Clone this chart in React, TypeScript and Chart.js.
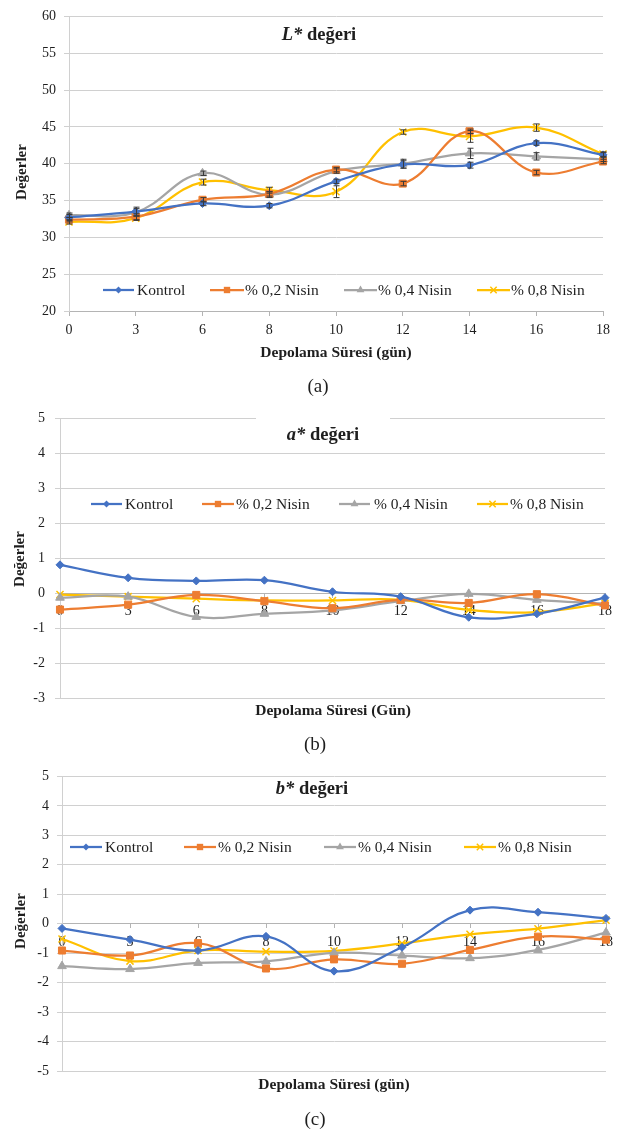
import React, { useEffect, useRef } from 'react';
import { Chart, registerables } from 'chart.js';

Chart.register(...registerables);

// ---------- data ----------
const days = ['0', '3', '6', '8', '10', '12', '14', '16', '18'];
const seriesNames = ['Kontrol', '% 0,2 Nisin', '% 0,4 Nisin', '% 0,8 Nisin'];

// L* values
const lKontrol = [32.7, 33.5, 34.6, 34.3, 37.6, 39.9, 39.8, 42.8, 41.2];
const lNisin02 = [32.4, 32.8, 35.1, 35.9, 39.2, 37.3, 44.4, 38.8, 40.3];
const lNisin04 = [33.0, 33.4, 38.7, 35.8, 39.0, 40.0, 41.4, 41.0, 40.6];
const lNisin08 = [32.1, 32.6, 37.5, 36.4, 36.2, 44.3, 43.7, 44.9, 41.3];
// L* error bars
const lErrKontrol = [0.4, 0.6, 0.3, 0.3, 0.3, 0.5, 0.4, 0.3, 0.3];
const lErrNisin02 = [0.3, 0.4, 0.3, 0.3, 0.3, 0.3, 0.3, 0.3, 0.3];
const lErrNisin04 = [0.3, 0.5, 0.3, 0.4, 0.3, 0.6, 0.7, 0.5, 0.3];
const lErrNisin08 = [0.3, 0.3, 0.4, 0.4, 0.8, 0.3, 0.8, 0.5, 0.3];

// a* values
const aKontrol = [0.81, 0.44, 0.35, 0.37, 0.04, -0.1, -0.69, -0.59, -0.13];
const aNisin02 = [-0.47, -0.33, -0.05, -0.23, -0.43, -0.19, -0.28, -0.03, -0.35];
const aNisin04 = [-0.13, -0.1, -0.68, -0.59, -0.49, -0.23, -0.02, -0.19, -0.3];
const aNisin08 = [-0.04, -0.1, -0.16, -0.21, -0.21, -0.19, -0.48, -0.54, -0.29];

// b* values
const bKontrol = [-0.16, -0.54, -0.91, -0.43, -1.61, -0.8, 0.46, 0.39, 0.18];
const bNisin02 = [-0.91, -1.08, -0.66, -1.52, -1.21, -1.36, -0.89, -0.44, -0.54];
const bNisin04 = [-1.44, -1.54, -1.33, -1.28, -0.99, -1.08, -1.17, -0.89, -0.3];
const bNisin08 = [-0.52, -1.27, -0.91, -0.95, -0.92, -0.67, -0.36, -0.17, 0.12];

// axis ranges [min, max, step]
const lRange = [20, 60, 5];
const aRange = [-3, 5, 1];
const bRange = [-5, 5, 1];

// ---------- styles ----------
const FAMILY = '"Liberation Serif", "Times New Roman", serif';
const TEXT = '#1e1e1e';
const GRID = '#d0d0d0';
const AXIS = '#b4b4b4';
const colors = ['#4472C4', '#ED7D31', '#A5A5A5', '#FFC000'];
const pointStyles = ['rectRot', 'rect', 'triangle', 'crossRot'];
const pointRadii = [4, 5, 5, 5];
const W = 628;

type Cfg = {
  top: number;
  height: number;
  area: { left: number; right: number; top: number; bottom: number };
  range: number[];
  xAtZero: boolean;
  xTickLen: number;
  xTickPad: number;
  yTickPad: number;
  series: number[][];
  errors?: number[][];
  titleItalic: string;
  titleRest: string;
  titleX: number;
  titleY: number;
  titleBox?: { x0: number; x1: number; y0: number; y1: number };
  legendY: number;
  legend: number[][]; // [lineStart, lineEnd, textX]
  xTitle: string;
  xTitleX: number;
  xTitleY: number;
  yTitleX: number;
  yTitleY: number;
  caption: string;
  captionX: number;
  captionY: number;
};

const cfgA: Cfg = {
  top: 0,
  height: 400,
  area: { left: 69, right: 603, top: 14, bottom: 311 },
  range: lRange,
  xAtZero: false,
  xTickLen: 5,
  xTickPad: 6,
  yTickPad: 8,
  series: [lKontrol, lNisin02, lNisin04, lNisin08],
  errors: [lErrKontrol, lErrNisin02, lErrNisin04, lErrNisin08],
  titleItalic: 'L*',
  titleRest: ' değeri',
  titleX: 319,
  titleY: 35,
  legendY: 290,
  legend: [
    [103, 134, 137],
    [210, 244, 245],
    [344, 377, 378],
    [477, 510, 511],
  ],
  xTitle: 'Depolama Süresi (gün)',
  xTitleX: 336,
  xTitleY: 353,
  yTitleX: 22,
  yTitleY: 172,
  caption: '(a)',
  captionX: 318,
  captionY: 387,
};

const cfgB: Cfg = {
  top: 400,
  height: 360,
  area: { left: 60, right: 605, top: 17, bottom: 298 },
  range: aRange,
  xAtZero: true,
  xTickLen: 4,
  xTickPad: 6,
  yTickPad: 10,
  series: [aKontrol, aNisin02, aNisin04, aNisin08],
  titleItalic: 'a*',
  titleRest: ' değeri',
  titleX: 323,
  titleY: 35,
  titleBox: { x0: 256, x1: 390, y0: 12, y1: 47 },
  legendY: 104,
  legend: [
    [91, 122, 125],
    [202, 234, 236],
    [339, 370, 374],
    [477, 508, 510],
  ],
  xTitle: 'Depolama Süresi (Gün)',
  xTitleX: 333,
  xTitleY: 311,
  yTitleX: 20,
  yTitleY: 159,
  caption: '(b)',
  captionX: 315,
  captionY: 345,
};

const cfgC: Cfg = {
  top: 760,
  height: 375,
  area: { left: 62, right: 606, top: 11, bottom: 311 },
  range: bRange,
  xAtZero: true,
  xTickLen: 4,
  xTickPad: 6,
  yTickPad: 8,
  series: [bKontrol, bNisin02, bNisin04, bNisin08],
  titleItalic: 'b*',
  titleRest: ' değeri',
  titleX: 312,
  titleY: 29,
  legendY: 87,
  legend: [
    [70, 102, 105],
    [184, 216, 218],
    [324, 356, 358],
    [464, 496, 498],
  ],
  xTitle: 'Depolama Süresi (gün)',
  xTitleX: 334,
  xTitleY: 325,
  yTitleX: 21,
  yTitleY: 161,
  caption: '(c)',
  captionX: 315,
  captionY: 360,
};

function drawMarker(ctx: CanvasRenderingContext2D, style: string, x: number, y: number, r: number, color: string) {
  ctx.save();
  ctx.fillStyle = color;
  ctx.strokeStyle = color;
  ctx.lineWidth = 1.5;
  ctx.beginPath();
  if (style === 'rectRot') {
    ctx.moveTo(x, y - r);
    ctx.lineTo(x + r, y);
    ctx.lineTo(x, y + r);
    ctx.lineTo(x - r, y);
    ctx.closePath();
    ctx.fill();
  } else if (style === 'rect') {
    const s = r * Math.SQRT1_2;
    ctx.rect(x - s, y - s, 2 * s, 2 * s);
    ctx.fill();
  } else if (style === 'triangle') {
    let rad = 0;
    ctx.moveTo(x + Math.sin(rad) * r, y - Math.cos(rad) * r);
    rad += (Math.PI * 2) / 3;
    ctx.lineTo(x + Math.sin(rad) * r, y - Math.cos(rad) * r);
    rad += (Math.PI * 2) / 3;
    ctx.lineTo(x + Math.sin(rad) * r, y - Math.cos(rad) * r);
    ctx.closePath();
    ctx.fill();
  } else {
    const d = r * Math.SQRT1_2;
    ctx.moveTo(x - d, y - d);
    ctx.lineTo(x + d, y + d);
    ctx.moveTo(x - d, y + d);
    ctx.lineTo(x + d, y - d);
    ctx.stroke();
  }
  ctx.restore();
}

function decorPlugin(cfg: Cfg) {
  return {
    id: 'decor',
    afterDatasetsDraw(chart: any) {
      if (!cfg.errors) return;
      const ctx: CanvasRenderingContext2D = chart.ctx;
      const ys = chart.scales.y;
      ctx.save();
      ctx.strokeStyle = '#3a3a3a';
      ctx.lineWidth = 1;
      cfg.errors.forEach((errs, i) => {
        const meta = chart.getDatasetMeta(i);
        errs.forEach((e, j) => {
          const v = cfg.series[i][j];
          const pt = meta.data[j];
          if (!pt) return;
          const x = Math.round(pt.x) + 0.5;
          const y1 = ys.getPixelForValue(v + e);
          const y2 = ys.getPixelForValue(v - e);
          ctx.beginPath();
          ctx.moveTo(x, y1);
          ctx.lineTo(x, y2);
          ctx.moveTo(x - 3, y1);
          ctx.lineTo(x + 3, y1);
          ctx.moveTo(x - 3, y2);
          ctx.lineTo(x + 3, y2);
          ctx.stroke();
        });
      });
      ctx.restore();
    },
    afterDraw(chart: any) {
      const ctx: CanvasRenderingContext2D = chart.ctx;
      ctx.save();
      if (cfg.titleBox) {
        const b = cfg.titleBox;
        ctx.fillStyle = '#ffffff';
        ctx.fillRect(b.x0, b.y0, b.x1 - b.x0, b.y1 - b.y0);
      }
      // title
      ctx.fillStyle = TEXT;
      ctx.textBaseline = 'middle';
      ctx.textAlign = 'left';
      ctx.font = `italic bold 18.5px ${FAMILY}`;
      const w1 = ctx.measureText(cfg.titleItalic).width;
      ctx.font = `bold 18.5px ${FAMILY}`;
      const w2 = ctx.measureText(cfg.titleRest).width;
      const tx = cfg.titleX - (w1 + w2) / 2;
      ctx.font = `italic bold 18.5px ${FAMILY}`;
      ctx.fillText(cfg.titleItalic, tx, cfg.titleY);
      ctx.font = `bold 18.5px ${FAMILY}`;
      ctx.fillText(cfg.titleRest, tx + w1, cfg.titleY);

      // legend
      cfg.legend.forEach((l, i) => {
        ctx.strokeStyle = colors[i];
        ctx.lineWidth = 2.25;
        ctx.beginPath();
        ctx.moveTo(l[0], cfg.legendY);
        ctx.lineTo(l[1], cfg.legendY);
        ctx.stroke();
        drawMarker(ctx, pointStyles[i], (l[0] + l[1]) / 2, cfg.legendY, pointRadii[i] - 0.5, colors[i]);
        ctx.fillStyle = TEXT;
        ctx.font = `15.5px ${FAMILY}`;
        ctx.textAlign = 'left';
        ctx.textBaseline = 'middle';
        ctx.fillText(seriesNames[i], l[2], cfg.legendY + 1);
      });

      // x title
      ctx.fillStyle = TEXT;
      ctx.textAlign = 'center';
      ctx.textBaseline = 'middle';
      ctx.font = `bold 15.5px ${FAMILY}`;
      ctx.fillText(cfg.xTitle, cfg.xTitleX, cfg.xTitleY);

      // caption
      ctx.font = `19px ${FAMILY}`;
      ctx.fillText(cfg.caption, cfg.captionX, cfg.captionY);

      // y title
      ctx.save();
      ctx.translate(cfg.yTitleX, cfg.yTitleY);
      ctx.rotate(-Math.PI / 2);
      ctx.font = `bold 15px ${FAMILY}`;
      ctx.textAlign = 'center';
      ctx.textBaseline = 'middle';
      ctx.fillText('Değerler', 0, 0);
      ctx.restore();

      ctx.restore();
    },
  };
}

function Panel({ cfg }: { cfg: Cfg }) {
  const ref = useRef<HTMLCanvasElement>(null);
  useEffect(() => {
    const canvas = ref.current;
    if (!canvas) return;
    const xScale: any = {
      type: 'category',
      position: cfg.xAtZero ? { y: 0 } : 'bottom',
      offset: false,
      grid: {
        display: true,
        drawOnChartArea: false,
        drawTicks: true,
        tickLength: cfg.xTickLen,
        color: AXIS,
      },
      border: { display: true, color: AXIS, width: 1 },
      ticks: {
        autoSkip: false,
        maxRotation: 0,
        padding: cfg.xTickPad,
        color: TEXT,
        font: { family: FAMILY, size: 14 },
      },
    };
    if (!cfg.xAtZero) {
      xScale.afterFit = (s: any) => {
        s.height = cfg.height - cfg.area.bottom;
      };
    }
    const chart = new Chart(canvas, {
      type: 'line',
      data: {
        labels: days,
        datasets: cfg.series.map((data, i) => ({
          label: seriesNames[i],
          data,
          borderColor: colors[i],
          backgroundColor: colors[i],
          pointBackgroundColor: colors[i],
          pointBorderColor: colors[i],
          pointStyle: pointStyles[i] as any,
          pointRadius: pointRadii[i],
          pointBorderWidth: i === 3 ? 1.5 : 1,
          borderWidth: 2.25,
          tension: 0.4,
          fill: false,
        })),
      },
      options: {
        responsive: false,
        animation: false,
        devicePixelRatio: 1,
        layout: {
          padding: {
            left: 0,
            top: cfg.area.top,
            right: W - cfg.area.right,
            bottom: cfg.xAtZero ? cfg.height - cfg.area.bottom : 0,
          },
        },
        plugins: {
          legend: { display: false },
          tooltip: { enabled: false },
          title: { display: false },
        },
        scales: {
          x: xScale,
          y: {
            type: 'linear',
            min: cfg.range[0],
            max: cfg.range[1],
            ticks: {
              stepSize: cfg.range[2],
              padding: cfg.yTickPad,
              color: TEXT,
              font: { family: FAMILY, size: 14 },
            },
            grid: { color: GRID, tickLength: 5, lineWidth: 1 },
            border: { display: true, color: GRID, width: 1 },
            afterFit: (s: any) => {
              s.width = cfg.area.left;
            },
          },
        },
      },
      plugins: [decorPlugin(cfg)],
    } as any);
    return () => chart.destroy();
  }, [cfg]);
  return (
    <canvas
      ref={ref}
      width={W}
      height={cfg.height}
      style={{ position: 'absolute', left: 0, top: cfg.top, width: W, height: cfg.height, display: 'block' }}
    />
  );
}

export default function App() {
  return (
    <div style={{ position: 'absolute', left: 0, top: 0, width: W, height: 1135, background: '#ffffff', overflow: 'hidden' }}>
      <Panel cfg={cfgA} />
      <Panel cfg={cfgB} />
      <Panel cfg={cfgC} />
    </div>
  );
}
